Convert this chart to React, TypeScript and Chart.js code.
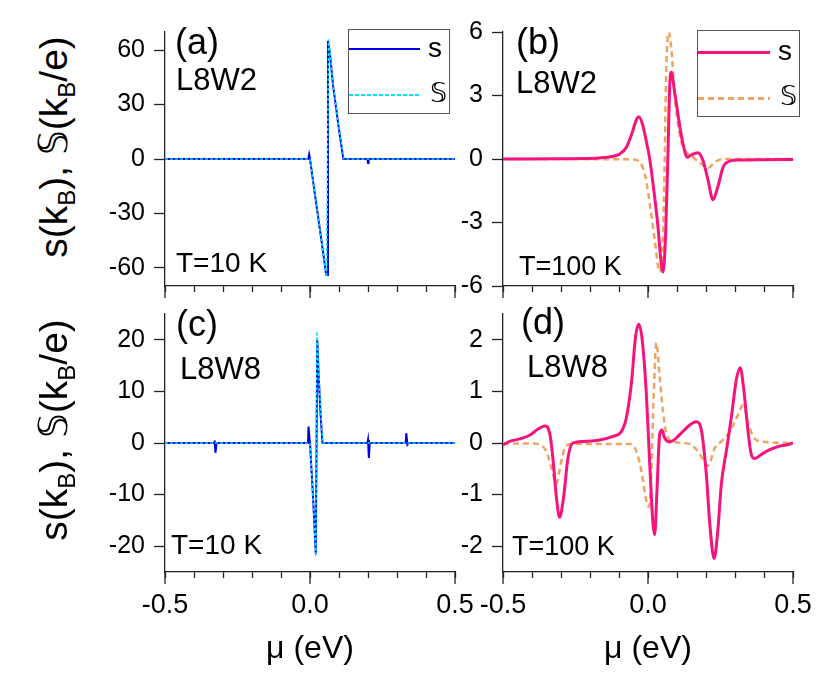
import React, { useEffect, useRef } from 'react';
import { Chart, registerables } from 'chart.js';

Chart.register(...registerables);

// ---- values (mu in eV) ----
// (a) L8W2, T=10 K
const muA_s = [-0.5, -0.006, -0.003, 0.0, 0.02, 0.04, 0.056, 0.059, 0.062, 0.069, 0.08, 0.098, 0.115, 0.198, 0.2, 0.202, 0.5];
const sA = [0, 0, 2.5, 0, -23, -45.5, -64, -64, 65, 57.5, 40, 18.5, 0, 0, -2.2, 0, 0];
const muA_S = [-0.5, 0.0, 0.02, 0.04, 0.057, 0.064, 0.07, 0.08, 0.098, 0.117, 0.5];
const SA = [0, 0, -23, -46, -65, 66, 57, 41, 19, 0, 0];

// (b) L8W2, T=100 K
const muB_s = [-0.5, -0.3, -0.224, -0.17, -0.132, -0.098, -0.075, -0.057, -0.04, -0.031, -0.017, -0.006, 0.006, 0.02, 0.034, 0.046, 0.052, 0.061, 0.069, 0.075, 0.08, 0.092, 0.109, 0.121, 0.136, 0.15, 0.172, 0.19, 0.207, 0.224, 0.241, 0.259, 0.282, 0.316, 0.4, 0.5];
const sB = [0, 0.01, 0.02, 0.05, 0.1, 0.23, 0.54, 1.15, 1.85, 2.0, 1.54, 0.85, 0, -1.46, -3.15, -5.0, -5.34, -3.46, 0.38, 3.46, 4.1, 3.15, 1.6, 0.69, 0.08, 0.2, 0.3, -0.08, -1.0, -1.92, -1.3, -0.38, -0.1, -0.05, -0.03, -0.02];
const muB_S = [-0.5, -0.052, -0.029, -0.011, 0.006, 0.023, 0.04, 0.052, 0.057, 0.063, 0.071, 0.08, 0.092, 0.109, 0.126, 0.155, 0.184, 0.207, 0.23, 0.259, 0.5];
const SB = [0, -0.02, -0.15, -0.7, -2.1, -3.8, -5.34, -3.46, -0.4, 4.2, 6.0, 5.3, 3.0, 1.15, 0.46, 0.08, -0.23, -0.43, -0.15, 0, 0];

// (c) L8W8, T=10 K
const muC_s = [-0.5, -0.331, -0.329, -0.326, -0.322, -0.007, -0.005, -0.002, 0.0, 0.01, 0.02, 0.025, 0.03, 0.036, 0.043, 0.198, 0.2, 0.203, 0.206, 0.33, 0.332, 0.336, 0.34, 0.5];
const sC = [0, 0, 0.5, -1.9, 0, 0, 3.2, 1, 0, -10, -21.5, 20, 13, 6, 0, 0, 0.6, -2.9, 0, 0, 1.9, -0.3, 0, 0];
const muC_S = [-0.5, 0.0, 0.01, 0.02, 0.024, 0.03, 0.036, 0.044, 0.5];
const SC = [0, 0, -10, -22, 21.6, 14, 7, 0, 0];

// (d) L8W8, T=100 K
const muD_s = [-0.5, -0.477, -0.443, -0.408, -0.379, -0.356, -0.339, -0.328, -0.316, -0.305, -0.291, -0.276, -0.259, -0.224, -0.167, -0.121, -0.092, -0.075, -0.057, -0.043, -0.032, -0.02, -0.006, 0.006, 0.017, 0.023, 0.031, 0.04, 0.048, 0.057, 0.075, 0.109, 0.144, 0.167, 0.184, 0.201, 0.213, 0.228, 0.241, 0.253, 0.27, 0.287, 0.305, 0.318, 0.33, 0.345, 0.356, 0.368, 0.391, 0.42, 0.454, 0.477, 0.5];
const sD = [-0.04, 0.03, 0.08, 0.15, 0.27, 0.33, 0.19, -0.29, -1.05, -1.44, -1.05, -0.29, 0, 0.03, 0.06, 0.13, 0.22, 0.48, 1.17, 2.06, 2.3, 2.0, 0.98, -0.41, -1.56, -1.78, -0.92, 0.16, 0.25, 0.1, 0.02, 0.16, 0.35, 0.41, 0.25, -0.6, -1.56, -2.24, -1.68, -0.79, -0.16, 0.48, 1.24, 1.46, 1.05, 0.22, -0.22, -0.3, -0.22, -0.13, -0.06, -0.04, 0];
const muD_S = [-0.5, -0.4, -0.374, -0.351, -0.333, -0.316, -0.301, -0.287, -0.264, -0.063, -0.04, -0.023, -0.006, 0.003, 0.011, 0.02, 0.029, 0.04, 0.052, 0.063, 0.086, 0.144, 0.172, 0.207, 0.23, 0.253, 0.282, 0.305, 0.328, 0.345, 0.362, 0.391, 0.5];
const SD = [-0.01, -0.01, -0.03, -0.16, -0.48, -0.79, -0.41, -0.1, -0.02, -0.02, -0.16, -0.54, -1.11, -1.24, -0.67, 0.98, 1.94, 1.3, 0.6, 0.19, 0.03, -0.02, -0.16, -0.44, -0.1, 0.03, 0.22, 0.48, 0.73, 0.41, 0.13, 0.03, 0];

// tick values
const X_TICKS = [-0.5, -0.4, -0.3, -0.2, -0.1, 0, 0.1, 0.2, 0.3, 0.4, 0.5];
const X_MAJOR = [-0.5, 0, 0.5];
const Y_TICKS_A = [-60, -30, 0, 30, 60];
const Y_TICKS_B = [-6, -3, 0, 3, 6];
const Y_TICKS_C = [-20, -10, 0, 10, 20];
const Y_TICKS_D = [-2, -1, 0, 1, 2];

const FONT = '"Liberation Sans", Arial, "DejaVu Sans", sans-serif';
const AXIS = '#222';
const BLUE = '#0000e8';
const CYAN = '#00e5f5';
const PINK = '#f5137c';
const ORANGE = '#f0a462';

const PAD_L = 80;
const PAD_T = 20;
const PAD_R = 30;

type Series = { x: number[]; y: number[]; color: string; width: number; dash?: number[]; order: number };

// longer tick marks at the labelled x values
const majorTicks = {
  id: 'majorTicks',
  afterDraw(chart: any) {
    const xs = chart.scales.x;
    const ctx = chart.ctx;
    ctx.save();
    ctx.strokeStyle = AXIS;
    ctx.lineWidth = 1.3;
    X_MAJOR.forEach((v) => {
      const px = xs.getPixelForValue(v);
      ctx.beginPath();
      ctx.moveTo(px, xs.top);
      ctx.lineTo(px, xs.top + 12);
      ctx.stroke();
    });
    ctx.restore();
  },
};

function Panel(props: {
  left: number; top: number; w: number; h: number;
  yMin: number; yMax: number; yTicks: number[];
  showX: boolean; smooth: boolean; series: Series[];
}) {
  const { left, top, w, h, yMin, yMax, yTicks, showX, smooth, series } = props;
  const ref = useRef<HTMLCanvasElement>(null);
  const padB = showX ? 96 : 20;
  const cw = w + PAD_L + PAD_R;
  const ch = h + PAD_T + padB;

  useEffect(() => {
    if (!ref.current) return;
    const chart = new Chart(ref.current, {
      type: 'line',
      data: {
        datasets: series.map((s) => ({
          data: s.x.map((x, i) => ({ x, y: s.y[i] })),
          borderColor: s.color,
          borderWidth: s.width,
          borderDash: s.dash ?? [],
          pointRadius: 0,
          fill: false,
          tension: 0,
          cubicInterpolationMode: smooth ? 'monotone' : 'default',
          order: s.order,
        })),
      },
      options: {
        animation: false,
        responsive: false,
        layout: { padding: { left: 0, top: PAD_T, right: PAD_R, bottom: 0 } },
        scales: {
          x: {
            type: 'linear',
            min: -0.5,
            max: 0.5,
            afterFit: (s: any) => { s.height = padB; },
            afterBuildTicks: (s: any) => { s.ticks = X_TICKS.map((v) => ({ value: v })); },
            ticks: {
              autoSkip: false,
              maxRotation: 0,
              padding: 11,
              color: '#000',
              font: { family: FONT, size: 27 },
              callback: (v: any) => {
                const n = Number(v);
                if (!showX) return '';
                return X_MAJOR.some((m) => Math.abs(m - n) < 1e-6) ? n.toFixed(1) : '';
              },
            },
            grid: { drawOnChartArea: false, tickLength: 6, tickColor: AXIS, tickWidth: 1.3 },
            border: { display: true, color: AXIS, width: 1.3 },
            title: {
              display: showX,
              text: 'μ (eV)',
              color: '#000',
              font: { family: FONT, size: 32 },
              padding: 0,
            },
          },
          y: {
            type: 'linear',
            min: yMin,
            max: yMax,
            afterFit: (s: any) => { s.width = PAD_L; },
            afterBuildTicks: (s: any) => { s.ticks = yTicks.map((v) => ({ value: v })); },
            ticks: {
              padding: 9,
              color: '#000',
              font: { family: FONT, size: 25 },
              callback: (v: any) => String(Number(v)),
            },
            grid: { drawOnChartArea: false, tickLength: 11, tickColor: AXIS, tickWidth: 1.3 },
            border: { display: true, color: AXIS, width: 1.3 },
          },
        },
        plugins: { legend: { display: false }, tooltip: { enabled: false } },
      },
      plugins: [majorTicks],
    } as any);
    return () => chart.destroy();
  }, []);

  return (
    <canvas
      ref={ref}
      width={cw}
      height={ch}
      style={{ position: 'absolute', left: left - PAD_L, top: top - PAD_T, width: cw, height: ch }}
    />
  );
}

function Txt({ x, y, size, children }: { x: number; y: number; size: number; children: React.ReactNode }) {
  return (
    <div style={{ position: 'absolute', left: x, top: y, fontSize: size, lineHeight: 1, whiteSpace: 'nowrap', color: '#000' }}>
      {children}
    </div>
  );
}

function LegendBox(props: {
  left: number; top: number; w: number; h: number;
  sColor: string; sWidth: number; SColor: string; SWidth: number;
  dash: number; gap: number; sY: number; SY: number; lineLen: number;
}) {
  const { left, top, w, h, sColor, sWidth, SColor, SWidth, dash, gap, sY, SY, lineLen } = props;
  return (
    <div style={{ position: 'absolute', left, top, width: w, height: h, border: '1px solid #555', boxSizing: 'border-box' }}>
      <div style={{ position: 'absolute', left: 0, top: sY - sWidth / 2, width: lineLen, height: sWidth, background: sColor }} />
      <div style={{ position: 'absolute', left: lineLen + 8, top: sY - 16, fontSize: 28, lineHeight: '30px' }}>s</div>
      <div
        style={{
          position: 'absolute', left: 0, top: SY - SWidth / 2, width: lineLen, height: SWidth,
          background: `repeating-linear-gradient(to right, ${SColor} 0px, ${SColor} ${dash}px, transparent ${dash}px, transparent ${dash + gap}px)`,
        }}
      />
      <div style={{ position: 'absolute', left: lineLen + 10, top: SY - 17, fontSize: 27, lineHeight: '30px' }}>𝕊</div>
    </div>
  );
}

function YTitle({ cx, cy }: { cx: number; cy: number }) {
  const sub = { fontSize: '0.62em', position: 'relative' as const, top: '0.32em' };
  return (
    <div
      style={{
        position: 'absolute', left: cx, top: cy, fontSize: 39, lineHeight: 1, whiteSpace: 'nowrap',
        transform: 'translate(-50%, -50%) rotate(-90deg)', color: '#000',
      }}
    >
      s(k<span style={sub}>B</span>), 𝕊(k<span style={sub}>B</span>/e)
    </div>
  );
}

export default function App() {
  return (
    <div style={{ position: 'absolute', left: 0, top: 0, width: 831, height: 676, background: '#fff', fontFamily: FONT, overflow: 'hidden' }}>
      <Panel left={165} top={28} w={290} h={262} yMin={-70} yMax={70} yTicks={Y_TICKS_A} showX={false} smooth={false}
        series={[
          { x: muA_s, y: sA, color: BLUE, width: 2, order: 1 },
          { x: muA_S, y: SA, color: CYAN, width: 1.5, dash: [3, 2], order: 0 },
        ]} />
      <Panel left={503} top={28} w={290} h={262} yMin={-6} yMax={6} yTicks={Y_TICKS_B} showX={false} smooth={true}
        series={[
          { x: muB_s, y: sB, color: PINK, width: 3, order: 0 },
          { x: muB_S, y: SB, color: ORANGE, width: 2.5, dash: [6, 4], order: 1 },
        ]} />
      <Panel left={165} top={310} w={290} h={262} yMin={-25} yMax={25} yTicks={Y_TICKS_C} showX={true} smooth={false}
        series={[
          { x: muC_s, y: sC, color: BLUE, width: 2, order: 1 },
          { x: muC_S, y: SC, color: CYAN, width: 1.5, dash: [3, 2], order: 0 },
        ]} />
      <Panel left={503} top={310} w={290} h={262} yMin={-2.5} yMax={2.5} yTicks={Y_TICKS_D} showX={true} smooth={true}
        series={[
          { x: muD_s, y: sD, color: PINK, width: 3, order: 0 },
          { x: muD_S, y: SD, color: ORANGE, width: 2.5, dash: [6, 4], order: 1 },
        ]} />

      <YTitle cx={53} cy={147} />
      <YTitle cx={53} cy={430} />

      <Txt x={175} y={24} size={36}>(a)</Txt>
      <Txt x={176} y={64} size={31}>L8W2</Txt>
      <Txt x={176} y={249} size={28}>T=10 K</Txt>

      <Txt x={516} y={24} size={36}>(b)</Txt>
      <Txt x={516} y={67} size={31}>L8W2</Txt>
      <Txt x={519} y={253} size={27}>T=100 K</Txt>

      <Txt x={176} y={306} size={36}>(c)</Txt>
      <Txt x={180} y={353} size={31}>L8W8</Txt>
      <Txt x={171} y={531} size={28}>T=10 K</Txt>

      <Txt x={521} y={304} size={36}>(d)</Txt>
      <Txt x={527} y={351} size={31}>L8W8</Txt>
      <Txt x={512} y={533} size={27}>T=100 K</Txt>

      <LegendBox left={348} top={29} w={102} h={85} sColor={BLUE} sWidth={2} SColor={CYAN} SWidth={1.5}
        dash={4} gap={2} sY={19} SY={65} lineLen={71} />
      <LegendBox left={697} top={30} w={103} h={87} sColor={PINK} sWidth={3} SColor={ORANGE} SWidth={3}
        dash={6} gap={4} sY={21} SY={67} lineLen={72} />
    </div>
  );
}
